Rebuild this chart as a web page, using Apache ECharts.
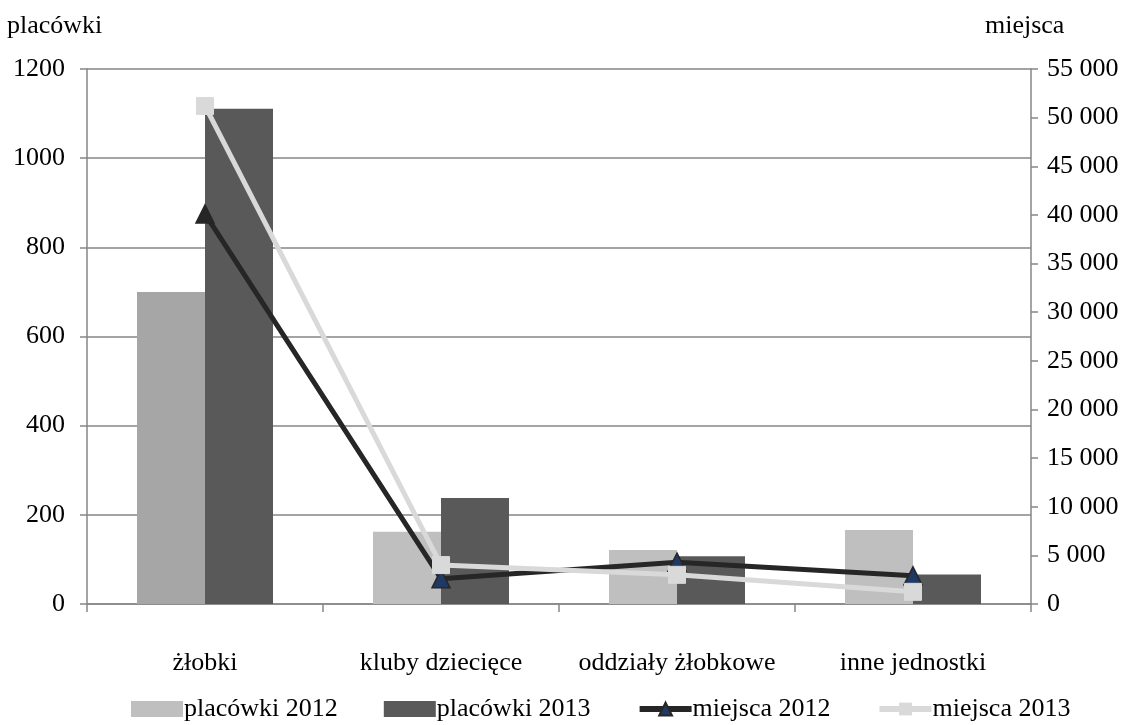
<!DOCTYPE html>
<html>
<head>
<meta charset="utf-8">
<script src="https://cdn.jsdelivr.net/npm/echarts@6/dist/echarts.min.js"></script>
<style>html,body{margin:0;padding:0;background:#fff}#c{width:1138px;height:725px}</style>
</head>
<body>
<div id="c"></div>
<script>
const categories = ['żłobki', 'kluby dziecięce', 'oddziały żłobkowe', 'inne jednostki'];
const placowki2012 = [700, 162, 121, 166];
const placowki2013 = [1111, 238, 107, 66];
const miejsca2012 = [40100, 2600, 4300, 2900];
const miejsca2013 = [51200, 4000, 3000, 1250];
const leftTicksMax = 1200;
const rightTicksMax = 55000;

const font = 'Liberation Serif';
const fs = 26;
const chart = echarts.init(document.getElementById('c'), null, {renderer: 'canvas'});
const fmtSpace = v => String(v).replace(/\B(?=(\d{3})+(?!\d))/g, ' ');
chart.setOption({
  animation: false,
  backgroundColor: '#fff',
  textStyle: {fontFamily: font, color: '#000'},
  grid: {left: 87, right: 107, top: 69, bottom: 121, containLabel: false},
  legend: {
    bottom: -2, left: 126,
    itemGap: 46, itemWidth: 52, itemHeight: 16,
    textStyle: {fontFamily: font, fontSize: fs, color: '#000', padding: [0, 0, 0, -4]},
    data: [
      {name: 'placówki 2012', icon: 'rect'},
      {name: 'placówki 2013', icon: 'rect'},
      {name: 'miejsca 2012', lineStyle: {width: 6, color: '#262626'}},
      {name: 'miejsca 2013', lineStyle: {width: 6, color: '#d9d9d9'}}
    ]
  },
  xAxis: {
    type: 'category', data: categories,
    axisLine: {lineStyle: {color: '#868686', width: 1.5}},
    axisTick: {show: true, interval: 0, length: 8, inside: false, lineStyle: {color: '#868686', width: 1.5}},
    axisLabel: {interval: 0, fontFamily: font, fontSize: fs, color: '#000', margin: 46}
  },
  yAxis: [
    {
      type: 'value', min: 0, max: leftTicksMax, interval: 200,
      name: 'placówki', nameLocation: 'end', nameGap: 30,
      nameTextStyle: {fontFamily: font, fontSize: fs, color: '#000', align: 'left', padding: [0, 0, 0, -80]},
      axisLine: {show: true, lineStyle: {color: '#868686', width: 1.5}},
      axisTick: {show: true, length: 7, lineStyle: {color: '#868686', width: 1.5}},
      axisLabel: {fontFamily: font, fontSize: fs, color: '#000', margin: 22, formatter: v => String(v)},
      splitLine: {lineStyle: {color: '#868686', width: 1.5}}
    },
    {
      type: 'value', min: 0, max: rightTicksMax, interval: 5000,
      name: 'miejsca', nameLocation: 'end', nameGap: 30,
      nameTextStyle: {fontFamily: font, fontSize: fs, color: '#000', align: 'left', padding: [0, 0, 0, -46]},
      axisLine: {show: true, lineStyle: {color: '#868686', width: 1.5}},
      axisTick: {show: true, length: 7, lineStyle: {color: '#868686', width: 1.5}},
      axisLabel: {fontFamily: font, fontSize: fs, color: '#000', margin: 16, formatter: fmtSpace},
      splitLine: {show: false}
    }
  ],
  series: [
    {
      name: 'placówki 2012', type: 'bar', barWidth: 68, barGap: '0%',
      itemStyle: {color: '#bfbfbf'},
      data: placowki2012.map((v, i) => i === 0 ? {value: v, itemStyle: {color: '#a6a6a6'}} : v)
    },
    {
      name: 'placówki 2013', type: 'bar', barWidth: 68, barGap: '0%',
      itemStyle: {color: '#595959'},
      data: placowki2013
    },
    {
      name: 'miejsca 2012', type: 'line', yAxisIndex: 1,
      symbol: 'triangle', symbolSize: 18,
      lineStyle: {color: '#262626', width: 5},
      itemStyle: {color: '#1f3864', borderColor: '#262626', borderWidth: 1.5},
      data: miejsca2012.map((v, i) => i === 0 ? {value: v, itemStyle: {color: '#262626'}} : v)
    },
    {
      name: 'miejsca 2013', type: 'line', yAxisIndex: 1,
      symbol: 'rect', symbolSize: 17,
      lineStyle: {color: '#d9d9d9', width: 5},
      itemStyle: {color: '#d9d9d9', borderColor: '#d9d9d9'},
      data: miejsca2013
    }
  ]
});
</script>
</body>
</html>
